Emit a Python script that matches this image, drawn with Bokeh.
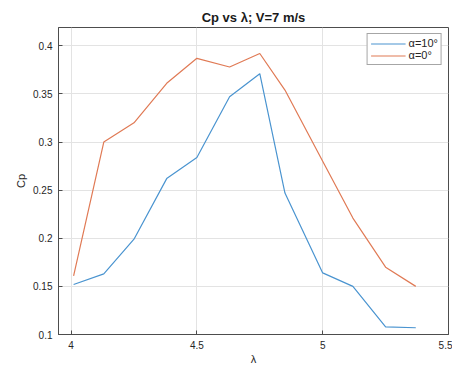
from bokeh.plotting import figure
from bokeh.models import Range1d, FixedTicker, Legend, LegendItem
from bokeh.embed import file_html
from bokeh.resources import INLINE

lam = [4.01, 4.13, 4.25, 4.38, 4.50, 4.63, 4.75, 4.85, 5.00, 5.12, 5.25, 5.37]
cp_a10 = [0.152, 0.163, 0.199, 0.262, 0.284, 0.347, 0.371, 0.247, 0.164, 0.150, 0.108, 0.107]
cp_a0 = [0.161, 0.300, 0.320, 0.361, 0.387, 0.378, 0.392, 0.354, 0.280, 0.221, 0.170, 0.150]
x_ticks = [4, 4.5, 5, 5.5]
y_ticks = [0.1, 0.15, 0.2, 0.25, 0.3, 0.35, 0.4]
labels = ["α=10°", "α=0°"]

FONT = "Liberation Sans"
AX = "#4d4d4d"

p = figure(width=452, height=371, output_backend="svg", toolbar_location=None,
           frame_width=390, frame_height=307,
           x_range=Range1d(3.95, 5.5), y_range=Range1d(0.1, 0.419),
           min_border_left=58, min_border_right=4, min_border_top=27, min_border_bottom=37,
           title="Cp vs λ; V=7 m/s")
p.title.align = "center"
p.title.text_font = FONT
p.title.text_font_size = "13px"
p.title.text_font_style = "bold"
p.title.text_color = "#1a1a1a"
p.title.offset = 0
p.title.standoff = 6

p.outline_line_color = AX
p.outline_line_width = 1
p.outline_line_alpha = 1

for ax, ticks in ((p.xaxis[0], x_ticks), (p.yaxis[0], y_ticks)):
    ax.ticker = FixedTicker(ticks=ticks)
    ax.major_tick_in = 4
    ax.major_tick_out = 0
    ax.minor_tick_line_color = None
    ax.axis_line_color = AX
    ax.major_tick_line_color = AX
    ax.major_label_text_font = FONT
    ax.major_label_text_font_size = "10px"
    ax.major_label_text_color = "#262626"
    ax.axis_label_text_font = FONT
    ax.axis_label_text_font_size = "11px"
    ax.axis_label_text_font_style = "normal"
    ax.axis_label_text_color = "#262626"

p.xaxis.axis_label = "λ"
p.yaxis.axis_label = "Cp"
p.xaxis.major_label_standoff = 6
p.xaxis.axis_label_standoff = 1
p.yaxis.major_label_standoff = 6
p.yaxis.axis_label_standoff = 3

p.xgrid.ticker = FixedTicker(ticks=x_ticks)
p.ygrid.ticker = FixedTicker(ticks=y_ticks)
p.grid.grid_line_color = "#e3e3e3"
p.grid.grid_line_width = 1

r1 = p.line(lam, cp_a10, line_color="#4a94d0", line_width=1.2)
r2 = p.line(lam, cp_a0, line_color="#e07a55", line_width=1.2)

legend = Legend(items=[LegendItem(label=labels[0], renderers=[r1]),
                       LegendItem(label=labels[1], renderers=[r2])],
                location="top_right")
legend.margin = 6
legend.padding = 3
legend.spacing = 0
legend.glyph_width = 35
legend.glyph_height = 11
legend.label_height = 11
legend.label_standoff = 3
legend.label_text_font = FONT
legend.label_text_font_size = "11px"
legend.label_text_color = "#262626"
legend.border_line_color = AX
legend.border_line_width = 1
legend.background_fill_alpha = 1
p.add_layout(legend)

open("out.html", "w").write(file_html(p, INLINE))
